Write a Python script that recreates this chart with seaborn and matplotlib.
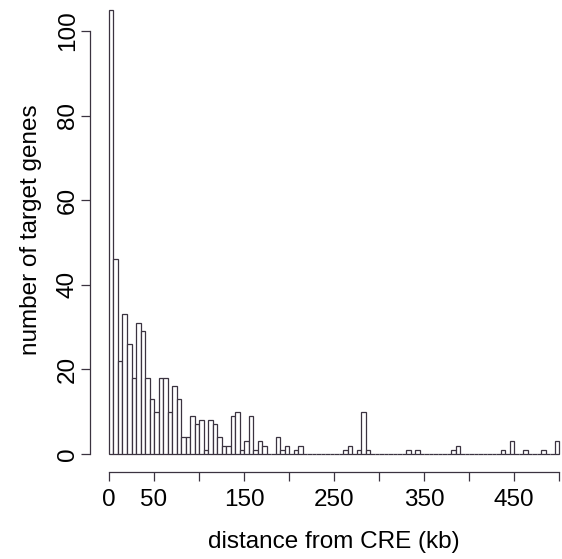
import numpy as np
import pandas as pd
import matplotlib
matplotlib.use("Agg")
import matplotlib.pyplot as plt
import seaborn as sns

# distance bins (kb), 5 kb wide, 0..500
bin_edges_kb = list(range(0, 505, 5))
counts = [105, 46, 22, 33, 26, 18, 31, 29, 18, 13,
          10, 18, 18, 10, 16, 13, 4, 4, 9, 7,
          8, 1, 8, 7, 4, 2, 2, 9, 10, 1,
          3, 9, 1, 3, 2, 0, 0, 4, 1, 2,
          0, 1, 2, 0, 0, 0, 0, 0, 0, 0,
          0, 0, 1, 2, 0, 1, 10, 1, 0, 0,
          0, 0, 0, 0, 0, 0, 1, 0, 1, 0,
          0, 0, 0, 0, 0, 0, 1, 2, 0, 0,
          0, 0, 0, 0, 0, 0, 0, 1, 0, 3,
          0, 0, 1, 0, 0, 0, 1, 0, 0, 3]
x_ticks = [0, 50, 100, 150, 200, 250, 300, 350, 400, 450, 500]
x_ticklabels = ["0", "50", "", "150", "", "250", "", "350", "", "450", ""]
y_ticks = [0, 20, 40, 60, 80, 100]

sns.set_style("white")
plt.rcParams['font.family'] = ['Liberation Sans', 'DejaVu Sans']

W, H = 562, 559
fig = plt.figure(figsize=(W / 100, H / 100), dpi=100)
ymax = 106
px_per_unit = 4.23
top_px = 454 - ymax * px_per_unit
ax = fig.add_axes([109 / W, (H - 454) / H, 450 / W, (454 - top_px) / H])

mids = [(a + b) / 2 for a, b in zip(bin_edges_kb[:-1], bin_edges_kb[1:])]
df = pd.DataFrame({"distance": mids, "n": counts})
sns.histplot(data=df, x="distance", weights="n", bins=bin_edges_kb, ax=ax,
             color="white", edgecolor="#3b3340", linewidth=0.9, alpha=1)
for p in ax.patches:
    p.set_clip_on(False)

ax.set_xlim(0, 500)
ax.set_ylim(0, ymax)
for s in ["top", "right"]:
    ax.spines[s].set_visible(False)
ax.spines["left"].set_position(("outward", 19 * 0.72))
ax.spines["bottom"].set_position(("outward", 18 * 0.72))
ax.spines["left"].set_bounds(0, 100)
ax.spines["bottom"].set_bounds(0, 500)
for s in ["left", "bottom"]:
    ax.spines[s].set_color("#3b3340")
    ax.spines[s].set_linewidth(0.9)

ax.set_xticks(x_ticks)
ax.set_xticklabels(x_ticklabels)
ax.set_yticks(y_ticks)
ax.set_yticklabels([str(v) for v in y_ticks], rotation=90, va="center")
ax.tick_params(axis="both", direction="out", length=6.5, width=0.9,
               bottom=True, left=True,
               color="#3b3340", labelsize=17.5, labelcolor="black")
ax.tick_params(axis="x", pad=6)
ax.tick_params(axis="y", pad=1.5)

ax.set_xlabel("distance from CRE (kb)", fontsize=17.5, labelpad=14, color="black")
ax.set_ylabel("number of target genes", fontsize=17.5, labelpad=11, color="black")
ax.grid(False)

fig.savefig("out.png", dpi=100)
